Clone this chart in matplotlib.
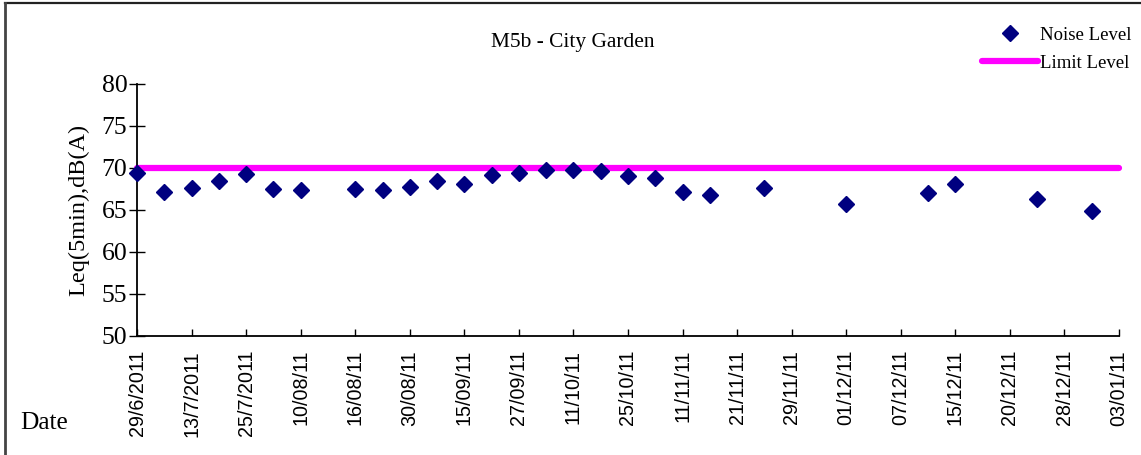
import numpy as np
import matplotlib
matplotlib.use('Agg')
import matplotlib.pyplot as plt
from matplotlib.lines import Line2D

# ========== 資料 ==========
# 每個類別位置 (0..36) 的噪音量測值，None 表示該日無量測
noise_level = [69.4, 67.1, 67.6, 68.4, 69.3, 67.5, 67.4, None,
               67.5, 67.4, 67.7, 68.4, 68.1, 69.2, 69.45, 69.8,
               69.8, 69.7, 69.05, 68.8, 67.2, 66.8, None, 67.6,
               None, None, 65.75, None, None, 67.0, 68.1, None,
               None, 66.3, None, 64.9, None]
limit_level = 70

# 每隔一個類別顯示的日期標籤
date_labels = ['29/6/2011', '13/7/2011', '25/7/2011', '10/08/11', '16/08/11',
               '30/08/11', '15/09/11', '27/09/11', '11/10/11', '25/10/11',
               '11/11/11', '21/11/11', '29/11/11', '01/12/11', '07/12/11',
               '15/12/11', '20/12/11', '28/12/11', '03/01/11']

y_ticks = [50, 55, 60, 65, 70, 75, 80]

SERIF = ['Liberation Serif', 'DejaVu Serif']
SANS = ['Liberation Sans', 'DejaVu Sans']

W, H = 1141, 455
fig = plt.figure(figsize=(W / 100, H / 100), dpi=100)
ax = fig.add_axes([137 / W, 1 - 336 / H, (1119 - 137) / W, (336 - 84) / H])

n = len(noise_level)
x = np.arange(n)
y = np.array([np.nan if v is None else v for v in noise_level], dtype=float)

ax.plot([0, n - 1], [limit_level, limit_level], color='#FF00FF', lw=4.5,
        solid_capstyle='round', label='Limit Level', zorder=2, clip_on=False)
ax.plot(x, y, linestyle='none', marker='D', markersize=8.5, color='#000080',
        label='Noise Level', zorder=3, clip_on=False)

ax.set_xlim(0, n - 1)
ax.set_ylim(50, 80)
ax.set_yticks(y_ticks)
ax.set_yticklabels([str(t) for t in y_ticks], family=SERIF, fontsize=18.5)
ax.set_xticks(x[::2])
ax.set_xticklabels(date_labels, rotation=90, family=SANS, fontsize=14.2)

for s in ['top', 'right']:
    ax.spines[s].set_visible(False)
for s in ['left', 'bottom']:
    ax.spines[s].set_linewidth(1.3)
ax.tick_params(axis='y', direction='inout', length=12, width=1, pad=1)
ax.tick_params(axis='x', direction='in', length=5, width=1, pad=10)

ax.set_ylabel('Leq(5min),dB(A)', family=SERIF, fontsize=17.5, labelpad=9)

fig.text(573 / W, 1 - 43 / H, 'M5b - City Garden', family=SERIF, fontsize=15.4,
         ha='center', va='center')
fig.text(20 / W, 1 - 423 / H, 'Date', family=SERIF, fontsize=18.3,
         ha='left', va='center')

# 圖例
handles, labels = ax.get_legend_handles_labels()
leg = fig.legend(handles[::-1], labels[::-1], loc='upper right',
                 bbox_to_anchor=(1139 / W, 1 - 19 / H), frameon=False,
                 prop={'family': SERIF, 'size': 13.5}, handlelength=3.0,
                 handletextpad=0.1, labelspacing=0.6, borderaxespad=0)

# 外框 (上、左)
fig.add_artist(Line2D([5 / W, 1], [1 - 3 / H, 1 - 3 / H], color='#222222', lw=1.6,
                      transform=fig.transFigure))
fig.add_artist(Line2D([5 / W, 5 / W], [0, 1 - 3 / H], color='#444444', lw=2.0,
                      transform=fig.transFigure))

fig.savefig('out.png', dpi=100)
